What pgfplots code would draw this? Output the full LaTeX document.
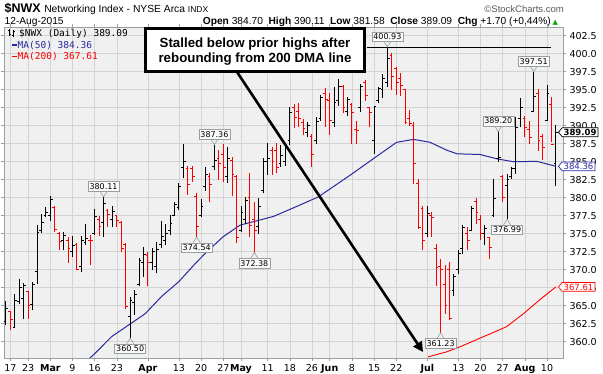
\documentclass[border=0pt]{standalone}
\usepackage{pgfplots}
\pgfplotsset{compat=1.18}
\usepackage{pgfplotstable}
\usepackage{fontspec}
\setmainfont{Liberation Sans}
\newfontfamily\dv{DejaVu Sans}
\newfontfamily\dvm{DejaVu Sans Mono}
\usetikzlibrary{arrows.meta,shapes.symbols}

\definecolor{bgc}{RGB}{240,240,240}
\definecolor{gridc}{RGB}{212,212,212}
\definecolor{monthc}{RGB}{175,175,175}
\definecolor{framec}{RGB}{150,162,162}
\definecolor{maBlue}{RGB}{40,40,160}
\definecolor{barRed}{RGB}{255,0,0}
\definecolor{upGreen}{RGB}{0,170,0}
\definecolor{labc}{RGB}{150,160,160}

\pgfdeclareplotmark{otick}{\pgfpathmoveto{\pgfqpoint{-2.3pt}{0pt}}\pgfpathlineto{\pgfqpoint{0pt}{0pt}}\pgfusepathqstroke}
\pgfdeclareplotmark{ctick}{\pgfpathmoveto{\pgfqpoint{0pt}{0pt}}\pgfpathlineto{\pgfqpoint{2.3pt}{0pt}}\pgfusepathqstroke}

% up days (black): i open high low close
\pgfplotstableread{
i o h l c
0 362.8 365.6 362.3 364.6
2 362.0 366.6 361.9 365.8
3 365.6 368.7 365.3 367.5
4 366.0 368.1 363.2 367.8
6 365.2 368.3 364.4 367.9
7 369.7 376.2 368.0 375.2
8 375.4 377.8 375.1 376.5
9 377.6 378.7 377.3 377.9
10 377.5 380.2 376.8 379.7
13 374.0 375.3 372.7 374.7
15 372.5 374.7 371.8 373.4
17 370.5 374.7 369.7 374.1
18 373.8 376.4 373.4 374.3
20 375.0 378.4 374.8 377.4
22 376.5 380.11 374.6 379.2
24 377.0 378.8 376.0 378.1
28 363.5 366.2 360.5 365.8
29 365.5 367.2 363.7 366.5
30 368.0 371.6 367.7 371.3
31 371.0 373.2 369.0 372.1
33 371.0 373.06 369.9 372.6
34 370.5 373.9 369.5 372.8
35 373.5 376.8 373.0 374.6
36 374.0 376.4 373.4 375.0
37 375.5 377.6 374.8 376.4
38 377.5 379.4 377.4 379.0
39 378.6 382.0 378.3 381.6
40 384.2 387.4 382.7 385.0
44 377.5 379.8 377.3 378.8
45 381.5 384.3 381.0 383.2
47 384.4 387.36 383.8 385.2
50 383.0 387.0 382.1 385.5
53 375.5 378.8 375.3 378.0
54 377.0 380.1 376.4 379.6
57 376.0 379.9 375.0 378.8
58 381.0 385.5 380.6 385.0
59 385.0 387.6 383.2 385.5
62 384.8 387.3 384.3 385.9
63 385.0 387.2 384.4 387.0
64 388.0 392.6 387.3 391.8
68 389.0 390.5 388.4 390.0
70 388.0 391.2 387.4 390.6
71 391.0 394.2 390.7 393.9
74 390.5 395.4 389.8 393.2
75 393.5 396.5 392.8 395.4
77 392.0 394.0 391.4 393.6
80 392.5 395.8 391.9 395.5
83 388.0 392.8 386.1 392.7
84 393.5 395.4 393.1 395.2
85 395.0 397.2 393.8 396.5
86 396.0 400.93 395.4 399.3
95 375.0 378.9 374.5 377.8
101 367.1 369.4 366.4 369.0
102 370.0 372.7 369.4 372.3
103 373.0 376.2 372.2 375.9
105 375.5 378.9 375.5 378.5
108 375.0 376.2 373.4 375.8
110 377.5 382.6 377.3 379.9
111 385.4 389.2 385.0 385.6
113 381.7 383.3 376.99 382.5
114 383.0 384.3 382.6 384.0
115 384.0 391.2 383.3 389.8
116 391.0 393.9 389.8 392.6
119 392.0 397.51 391.9 394.0
122 390.8 395.6 390.7 394.5
124 384.70 390.11 381.58 389.09
}\upbars

% down days (red)
\pgfplotstableread{
i o h l c
1 364.2 364.3 361.6 363.1
5 367.0 367.0 363.2 365.1
11 378.7 378.8 375.3 375.6
12 375.0 375.3 372.7 373.9
14 374.0 374.6 371.0 373.0
16 373.5 373.7 370.0 370.1
19 374.1 374.8 370.7 374.0
21 377.0 377.4 374.7 376.0
23 378.3 378.5 376.0 377.7
25 377.6 377.6 376.0 376.8
26 376.5 376.7 372.4 373.0
27 373.5 373.75 364.6 364.9
32 372.0 372.5 367.7 371.0
41 384.0 384.4 380.4 381.8
42 384.0 384.4 382.2 382.9
43 380.2 380.6 374.54 376.0
46 383.0 383.4 379.4 381.9
48 385.5 386.6 382.5 384.7
49 386.0 387.5 382.2 384.2
51 385.2 385.7 380.2 383.2
52 383.0 383.2 373.66 374.5
55 380.0 383.4 374.6 376.1
56 377.0 379.4 372.38 375.5
60 386.5 387.0 383.2 385.0
61 386.5 387.6 383.4 384.2
65 392.5 393.0 389.7 391.2
66 392.0 393.2 389.8 391.0
67 390.5 391.0 388.7 389.6
69 388.5 388.9 384.3 386.0
72 394.5 395.2 389.8 393.6
73 393.5 394.5 388.7 390.8
76 395.5 395.6 391.7 392.5
78 393.0 393.2 387.5 391.9
79 389.5 390.7 387.5 389.4
81 396.0 396.3 393.5 394.2
82 392.5 392.6 389.8 391.9
87 399.8 400.1 394.9 396.8
88 398.0 398.1 394.3 396.0
89 396.5 397.3 394.1 395.6
90 395.0 395.1 390.2 390.5
91 391.0 392.2 390.0 390.3
92 390.0 390.5 381.95 384.7
93 382.0 382.6 375.7 375.9
94 378.5 378.9 372.7 374.0
96 377.5 378.0 374.5 377.3
97 373.0 373.6 367.8 370.3
98 370.5 371.5 361.23 370.0
99 368.0 370.6 363.9 365.1
100 370.1 371.1 363.0 363.2
104 375.0 375.9 372.7 374.0
106 379.5 379.9 376.4 378.0
107 377.0 377.55 374.1 375.0
109 374.5 374.5 371.5 373.1
112 383.0 383.1 379.4 380.0
117 391.0 391.4 388.4 389.8
118 389.5 390.6 387.5 388.4
120 394.5 395.1 386.5 388.0
121 388.5 388.9 385.2 387.0
123 393.0 394.0 387.7 387.39
}\downbars

\tikzset{plab/.style={draw=labc, fill=white!97!gray, inner xsep=1.5pt, inner ysep=1.8pt,
  text height=6pt, text depth=0pt, font=\dv\fontsize{8}{9}\selectfont, text=black}}
\newcommand{\hilab}[2]{%
  \draw[labc, line width=0.6pt] (axis cs:#1,#2) ++(-3.5pt,5.5pt) -- (axis cs:#1,#2) -- ++(3.5pt,5.5pt);
  \node[plab, anchor=south, yshift=5.5pt] at (axis cs:#1,#2) {#2};}
\newcommand{\lolab}[2]{%
  \draw[labc, line width=0.6pt] (axis cs:#1,#2) ++(-3.5pt,-5.5pt) -- (axis cs:#1,#2) -- ++(3.5pt,-5.5pt);
  \node[plab, anchor=north, yshift=-5.5pt] at (axis cs:#1,#2) {#2};}

\begin{document}
\begin{tikzpicture}[x=1pt,y=1pt]
\useasboundingbox (0,0) rectangle (603,374);
\fill[white] (0,0) rectangle (603,374);

% header
\node[anchor=base west, inner sep=0] at (4.5,361) {\fontsize{12.5}{14}\selectfont\bfseries \$NWX\ \mdseries\fontsize{10.3}{12}\selectfont Networking Index - NYSE Arca \fontsize{8.5}{10}\selectfont INDX};
\node[anchor=base east, inner sep=0, text=black!65] at (564,361) {\fontsize{9.5}{11}\selectfont \textcopyright StockCharts.com};
\node[anchor=base west, inner sep=0] at (4.5,349.5) {\fontsize{10.2}{12}\selectfont 12-Aug-2015};
\node[anchor=base east, inner sep=0] at (551,349.5) {\fontsize{10.2}{12}\selectfont \textbf{Open} 384.70 \ \textbf{High} 390.11 \ \textbf{Low} 381.58 \ \textbf{Close} 389.09 \ \textbf{Chg} +1.70 (+0.44\%)};
\node[anchor=base west, inner sep=0, text=upGreen] at (552.5,349.5) {\dv\fontsize{7}{8}\selectfont ▲};

\begin{axis}[
  at={(4pt,16pt)}, anchor=south west, scale only axis,
  width=559pt, height=331pt,
  xmin=-0.45, xmax=125.6, ymin=357.74, ymax=403.71,
  axis background/.style={fill=bgc},
  axis line style={framec, line width=0.8pt},
  grid=major, major grid style={gridc, line width=0.6pt},
  xtick={1,5,15,20,25,39,44,49,59,64,69,78,83,88,102,107,112,122},
  xticklabels={17,23,9,16,23,13,20,27,11,18,26,8,15,22,13,20,27,10},
  extra x ticks={10,32,53,73,95,117},
  extra x tick labels={\textbf{Mar},\textbf{Apr},\textbf{May},\textbf{Jun},\textbf{Jul},\textbf{Aug}},
  extra x tick style={grid style={monthc, line width=0.6pt}},
  ytick={360,362.5,365,367.5,370,372.5,375,377.5,380,382.5,385,387.5,390,392.5,395,397.5,400,402.5},
  yticklabel pos=right,
  y tick label style={/pgf/number format/fixed, /pgf/number format/fixed zerofill, /pgf/number format/precision=1},
  /pgf/number format/assume math mode=true,
  tick label style={font=\dv\fontsize{9.5}{10}\selectfont, text=black},
  tick align=outside, major tick length=3pt, tick style={framec, line width=0.6pt},
  clip mode=individual,
]
% moving averages
\addplot[maBlue, line width=1pt] coordinates {
(18.5,357.5) (20.1,358.4) (23.8,360.7) (27.6,362.3) (31.4,363.9) (35.1,366.3)
(38.9,368.3) (42.6,370.8) (45.3,372.5) (49.0,374.6) (52.8,376.2) (56.6,376.8)
(60.3,377.4) (64.1,378.4) (70.4,380.1) (78.0,383.3) (84.4,386.1) (88.1,387.7)
(91.9,388.1) (95.6,387.7) (99.4,386.6) (101.7,386.1) (106.9,386.0) (110.7,385.4)
(114.4,385.0) (119.7,385.05) (124,384.36)};
\addplot[barRed, line width=0.9pt] coordinates {
(95.2,357.9) (99.4,358.6) (102.4,359.3) (106.9,360.5) (109.2,361.1)
(112.9,362.1) (116.7,363.9) (120.5,365.9) (124,367.61)};
% prior high line
\addplot[black, line width=0.8pt] coordinates {(81.4,400.93) (123,400.93)};

% OHLC bars
\addplot[draw=none, mark=none, forget plot, error bars/.cd, y dir=plus, y explicit, error mark=none,
  error bar style={draw=black, solid, line width=1pt}]
  table[x=i, y=l, y error expr=\thisrow{h}-\thisrow{l}] {\upbars};
\addplot[black, only marks, mark=otick, mark options={line width=0.9pt, solid}] table[x=i, y=o] {\upbars};
\addplot[black, only marks, mark=ctick, mark options={line width=0.9pt, solid}] table[x=i, y=c] {\upbars};
\addplot[draw=none, mark=none, forget plot, error bars/.cd, y dir=plus, y explicit, error mark=none,
  error bar style={draw=barRed, solid, line width=1pt}]
  table[x=i, y=l, y error expr=\thisrow{h}-\thisrow{l}] {\downbars};
\addplot[barRed, only marks, mark=otick, mark options={line width=0.9pt, solid}] table[x=i, y=o] {\downbars};
\addplot[barRed, only marks, mark=ctick, mark options={line width=0.9pt, solid}] table[x=i, y=c] {\downbars};

% price labels
\hilab{22}{380.11}
\hilab{47}{387.36}
\hilab{86}{400.93}
\hilab{111}{389.20}
\hilab{119}{397.51}
\lolab{28}{360.50}
\lolab{43}{374.54}
\lolab{56}{372.38}
\lolab{98}{361.23}
\lolab{113}{376.99}

% right value tags
\node[signal, signal to=west, signal pointer angle=100, draw=black, line width=0.7pt, fill=white,
  inner xsep=1.5pt, inner ysep=1.2pt, font=\dv\bfseries\fontsize{8.5}{9}\selectfont, anchor=west, xshift=-5pt]
  at (axis cs:125.6,389.09) {389.09};
\node[signal, signal to=west, signal pointer angle=100, draw=maBlue, line width=0.7pt, fill=white, text=maBlue,
  inner xsep=1.5pt, inner ysep=1.2pt, font=\dv\fontsize{8.5}{9}\selectfont, anchor=west, xshift=-5pt]
  at (axis cs:125.6,384.36) {384.36};
\node[signal, signal to=west, signal pointer angle=100, draw=barRed, line width=0.7pt, fill=white, text=barRed,
  inner xsep=1.5pt, inner ysep=1.2pt, font=\dv\fontsize{8.5}{9}\selectfont, anchor=west, xshift=-5pt]
  at (axis cs:125.6,367.61) {367.61};
\end{axis}

% legend
\draw[black, line width=0.8pt] (9,338) -- (9,345) (7.5,343.5) -- (9,343.5) (9,339.5) -- (10.5,339.5);
\draw[black, line width=0.8pt] (13,337) -- (13,344) (11.5,338.5) -- (13,338.5) (13,342.5) -- (14.5,342.5);
\node[anchor=base west, inner sep=0] at (19,337) {\dvm\fontsize{9.5}{10}\selectfont \$NWX (Daily) 389.09};
\draw[maBlue, line width=1.6pt] (11.5,328.8) -- (17,328.8);
\node[anchor=base west, inner sep=0, text=maBlue] at (17.5,325.5) {\dvm\fontsize{9.5}{10}\selectfont MA(50) 384.36};
\draw[barRed, line width=1.6pt] (11.5,317.3) -- (17,317.3);
\node[anchor=base west, inner sep=0, text=barRed] at (17.5,314) {\dvm\fontsize{9.5}{10}\selectfont MA(200) 367.61};

% annotation
\draw[black, line width=2.6pt, fill=white] (145.3,345.7) rectangle (364.7,302.3);
\node[anchor=base, inner sep=0] at (255,326.7) {\fontsize{13.3}{15}\selectfont\bfseries Stalled below prior highs after};
\node[anchor=base, inner sep=0] at (255,311.7) {\fontsize{13.3}{15}\selectfont\bfseries rebounding from 200 DMA line};
\draw[black, line width=2.6pt, -{Triangle[length=10pt,width=10pt]}] (237,302) -- (423,22);
\end{tikzpicture}
\end{document}
